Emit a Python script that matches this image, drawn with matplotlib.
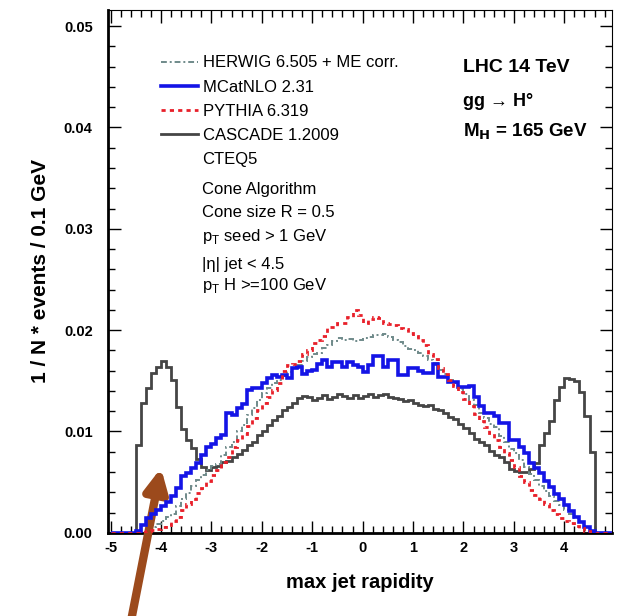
import numpy as np
import matplotlib
matplotlib.use("Agg")
import matplotlib.pyplot as plt
from matplotlib.ticker import MultipleLocator

plt.rcParams['font.family'] = ['Liberation Sans', 'DejaVu Sans']
plt.rcParams['axes.unicode_minus'] = False

# rapidity bins of width 0.1 from -5 to 5
edges = np.round(np.arange(-5.0, 5.01, 0.1), 1)

herwig = [
    0, 0, 0, 0, 0, 0, 0.0002, 0.0004, 0.0006, 0.0009,
    0.0012, 0.0016, 0.0019, 0.0026, 0.0033, 0.0039, 0.0046, 0.0052, 0.0057, 0.0062,
    0.0066, 0.0068, 0.0077, 0.0085, 0.0090, 0.0100, 0.0106, 0.0116, 0.0123, 0.0131,
    0.0138, 0.0143, 0.0148, 0.0151, 0.0155, 0.0159, 0.0163, 0.0166, 0.0170, 0.0173,
    0.0176, 0.0177, 0.0182, 0.0185, 0.0189, 0.0192, 0.0190, 0.0191, 0.0189, 0.0190,
    0.0192, 0.0193, 0.0195, 0.0195, 0.0196, 0.0193, 0.0190, 0.0188, 0.0184, 0.0181,
    0.0180, 0.0177, 0.0174, 0.0171, 0.0168, 0.0161, 0.0157, 0.0151, 0.0148, 0.0142,
    0.0137, 0.0131, 0.0126, 0.0118, 0.0113, 0.0107, 0.0104, 0.0096, 0.0090, 0.0083,
    0.0079, 0.0072, 0.0065, 0.0058, 0.0052, 0.0046, 0.0041, 0.0036, 0.0031, 0.0027,
    0.0023, 0.0019, 0.0015, 0.0011, 0.0006, 0.0002, 0, 0, 0, 0,
]

mcatnlo = [
    0, 0, 0, 0, 0, 0.0002, 0.0008, 0.0015, 0.0019, 0.0023,
    0.0026, 0.0030, 0.0036, 0.0044, 0.0056, 0.0059, 0.0064, 0.0069, 0.0077, 0.0085,
    0.0088, 0.0094, 0.0097, 0.0118, 0.0116, 0.0123, 0.0127, 0.0141, 0.0143, 0.0143,
    0.0148, 0.0153, 0.0156, 0.0154, 0.0156, 0.0153, 0.0163, 0.0164, 0.0157, 0.0160,
    0.0161, 0.0167, 0.0171, 0.0164, 0.0169, 0.0169, 0.0164, 0.0169, 0.0166, 0.0164,
    0.0159, 0.0166, 0.0174, 0.0174, 0.0164, 0.0171, 0.0171, 0.0156, 0.0156, 0.0163,
    0.0163, 0.0160, 0.0158, 0.0158, 0.0167, 0.0154, 0.0154, 0.0149, 0.0149, 0.0144,
    0.0144, 0.0145, 0.0134, 0.0125, 0.0118, 0.0118, 0.0115, 0.0108, 0.0108, 0.0092,
    0.0092, 0.0085, 0.0079, 0.0069, 0.0064, 0.0059, 0.0051, 0.0045, 0.0038, 0.0033,
    0.0027, 0.0022, 0.0016, 0.0011, 0.0006, 0.0002, 0, 0, 0, 0,
]

pythia = [
    0, 0, 0, 0, 0, 0, 0.0001, 0.0002, 0.0003, 0.0004,
    0.0006, 0.0008, 0.0012, 0.0016, 0.0023, 0.0028, 0.0033, 0.0039, 0.0044, 0.0051,
    0.0057, 0.0062, 0.0070, 0.0075, 0.0085, 0.0092, 0.0098, 0.0105, 0.0113, 0.0121,
    0.0128, 0.0134, 0.0141, 0.0148, 0.0160, 0.0166, 0.0167, 0.0170, 0.0176, 0.0180,
    0.0187, 0.0190, 0.0194, 0.0203, 0.0203, 0.0207, 0.0207, 0.0213, 0.0220, 0.0215,
    0.0207, 0.0211, 0.0213, 0.0212, 0.0207, 0.0206, 0.0205, 0.0202, 0.0201, 0.0197,
    0.0194, 0.0190, 0.0185, 0.0176, 0.0172, 0.0163, 0.0157, 0.0151, 0.0145, 0.0139,
    0.0132, 0.0125, 0.0117, 0.0110, 0.0104, 0.0099, 0.0092, 0.0085, 0.0079, 0.0072,
    0.0065, 0.0056, 0.0050, 0.0042, 0.0037, 0.0033, 0.0028, 0.0023, 0.0019, 0.0015,
    0.0012, 0.0010, 0.0007, 0.0005, 0.0002, 0.0001, 0, 0, 0, 0,
]

cascade = [
    0, 0, 0, 0, 0, 0.0087, 0.0128, 0.0143, 0.0158, 0.0164,
    0.0170, 0.0164, 0.0151, 0.0124, 0.0102, 0.0092, 0.0084, 0.0073, 0.0065, 0.0062,
    0.0065, 0.0066, 0.0070, 0.0071, 0.0075, 0.0078, 0.0082, 0.0087, 0.0090, 0.0097,
    0.0100, 0.0106, 0.0111, 0.0115, 0.0121, 0.0124, 0.0128, 0.0133, 0.0135, 0.0134,
    0.0131, 0.0133, 0.0136, 0.0132, 0.0134, 0.0137, 0.0135, 0.0133, 0.0136, 0.0133,
    0.0135, 0.0137, 0.0134, 0.0136, 0.0137, 0.0134, 0.0133, 0.0132, 0.0130, 0.0131,
    0.0128, 0.0126, 0.0125, 0.0126, 0.0122, 0.0121, 0.0118, 0.0114, 0.0112, 0.0107,
    0.0103, 0.0099, 0.0093, 0.0090, 0.0087, 0.0081, 0.0077, 0.0075, 0.0070, 0.0063,
    0.0061, 0.0060, 0.0060, 0.0063, 0.0069, 0.0087, 0.0099, 0.0110, 0.0131, 0.0144,
    0.0153, 0.0152, 0.0150, 0.0139, 0.0115, 0.0080, 0, 0, 0, 0,
]

labels = ["HERWIG 6.505 + ME corr.", "MCatNLO 2.31", "PYTHIA 6.319", "CASCADE 1.2009"]
info_lines = ["CTEQ5", "Cone Algorithm", "Cone size R = 0.5", r"p$_\mathregular{T}$ seed > 1 GeV",
              "|η| jet < 4.5", r"p$_\mathregular{T}$ H >=100 GeV"]

fig = plt.figure(figsize=(6.19, 6.16), dpi=100)
ax = fig.add_axes([0.1745, 0.135, 0.8145, 0.849])

ax.stairs(cascade, edges, color='#454545', lw=2.0, label=labels[3], zorder=2)
ax.stairs(herwig, edges, color='#6f8a8a', lw=1.4, ls=(0, (3, 1.5, 1, 1.5)), label=labels[0], zorder=3)
ax.stairs(mcatnlo, edges, color='#1414e6', lw=2.6, label=labels[1], zorder=4)
ax.stairs(pythia, edges, color='#e8202a', lw=2.0, ls=(0, (1.5, 1.5)), label=labels[2], zorder=5)

ax.set_xlim(-5.05, 4.95)
ax.set_ylim(0, 0.0516)
ax.xaxis.set_major_locator(MultipleLocator(1))
ax.xaxis.set_minor_locator(MultipleLocator(0.2))
ax.yaxis.set_major_locator(MultipleLocator(0.01))
ax.yaxis.set_minor_locator(MultipleLocator(0.002))
ax.yaxis.set_major_formatter(plt.FormatStrFormatter('%.2f'))
ax.tick_params(which='both', direction='in', top=True, right=True, width=1)
ax.tick_params(which='major', length=9, labelsize=10.5)
ax.tick_params(which='minor', length=5)
ax.tick_params(axis='x', pad=6)
ax.tick_params(axis='y', pad=11)
for t in ax.get_xticklabels() + ax.get_yticklabels():
    t.set_fontweight('bold')
ax.spines['left'].set_linewidth(2)
ax.spines['bottom'].set_linewidth(2)

ax.set_xlabel("max jet rapidity", fontsize=14.5, fontweight='bold', labelpad=13)
ax.set_ylabel("1 / N * events / 0.1 GeV", fontsize=15, fontweight='bold', labelpad=10)

h, l = ax.get_legend_handles_labels()
order = [l.index(s) for s in labels]
ax.legend([h[i] for i in order], [l[i] for i in order], loc='upper left',
          bbox_to_anchor=(0.105, 0.913), frameon=False, fontsize=12,
          handlelength=2.2, handletextpad=0.3, labelspacing=0.55,
          borderpad=0, borderaxespad=0)

info_y = [0.713, 0.657, 0.613, 0.567, 0.514, 0.472]
for txt, yy in zip(info_lines, info_y):
    ax.text(0.187, yy, txt, transform=ax.transAxes, fontsize=12, va='center')

ax.text(0.704, 0.89, "LHC 14 TeV", transform=ax.transAxes, fontsize=14, fontweight='bold', va='center')
ax.text(0.704, 0.824, "gg → H°", transform=ax.transAxes, fontsize=13, fontweight='bold', va='center')
ax.text(0.704, 0.766, r"M$_\mathbf{H}$ = 165 GeV", transform=ax.transAxes, fontsize=13.5,
        fontweight='bold', va='center')

ax.annotate("", xy=(161, 148), xycoords='figure pixels', xytext=(131, -5),
            textcoords='figure pixels',
            arrowprops=dict(arrowstyle='-|>', lw=6, color='#9c4a1c', mutation_scale=34,
                            shrinkA=0, shrinkB=0))

fig.savefig("out.png", dpi=100)
